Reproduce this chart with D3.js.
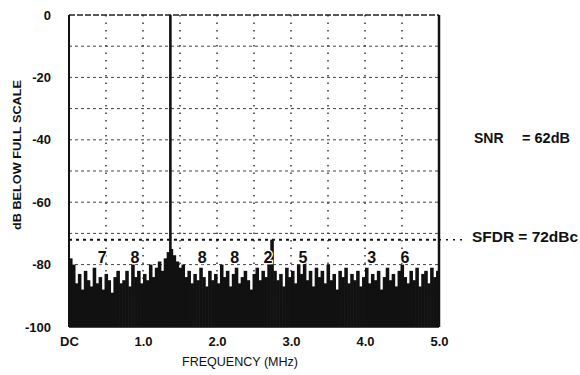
<!DOCTYPE html>
<html>
<head>
<meta charset="utf-8">
<script src="https://cdn.jsdelivr.net/npm/d3@7"></script>
<style>
  html, body { margin: 0; padding: 0; background: #fff; }
  svg { display: block; font-family: Arial, "Liberation Sans", sans-serif; }
</style>
</head>
<body>
<svg id="chart" width="580" height="375"></svg>
<script>
// x ticks (MHz) and their labels
const xTicks = [0, 1, 2, 3, 4, 5]
const xTickLabels = ['DC', '1.0', '2.0', '3.0', '4.0', '5.0']
// y ticks (dB below full scale)
const yTicks = [0, -20, -40, -60, -80, -100]
const yGrid = [-10, -20, -30, -40, -50, -60, -70, -80, -90]
const xGrid = [0.5, 1.0, 1.5, 2.0, 2.5, 3.0, 3.5, 4.0, 4.5]

// fundamental
const carrierFreq = 1.37
const carrierLevel = 0

// noise floor, one value per 0.04 MHz bin starting at DC
const binWidth = 0.04
const noise = [
  -78, -80, -86, -83, -88, -82, -85, -87, -81, -86,
  -84, -88, -83, -85, -89, -84, -82, -86, -85, -82,
  -87, -80, -84, -82, -86, -83, -85, -80, -84, -81,
  -79, -82, -78, -76, -75, -77, -79, -81, -80, -84,
  -82, -86, -83, -85, -81, -84, -87, -82, -85, -83,
  -86, -80, -84, -82, -87, -83, -81, -86, -84, -82,
  -85, -88, -83, -81, -85, -82, -84, -80, -72, -82,
  -85, -83, -87, -81, -84, -82, -86, -80, -83, -79,
  -85, -82, -87, -81, -84, -82, -86, -80, -85, -83,
  -88, -82, -84, -81, -86, -83, -85, -82, -87, -84,
  -81, -86, -83, -85, -82, -88, -84, -81, -85, -83,
  -87, -82, -80, -84, -86, -82, -85, -81, -87, -83,
  -82, -86, -81, -84, -82
]

// harmonic markers written on the plot
const harmonicLabels = ['7', '8', '8', '8', '2', '5', '3', '6']
const harmonicFreqs = [0.45, 0.89, 1.80, 2.24, 2.69, 3.16, 4.09, 4.54]

const sfdrLevel = -72
const snrText = ['SNR', '= 62dB']
const sfdrText = 'SFDR = 72dBc'

const svg = d3.select('#chart')
const ink = '#111'

const x = d3.scaleLinear().domain([0, 5]).range([69, 439])
const y = d3.scaleLinear().domain([-100, 0]).range([327, 15])

// grid
svg.append('g')
  .selectAll('line')
  .data(yGrid)
  .join('line')
  .attr('x1', x(0)).attr('x2', x(5))
  .attr('y1', d => y(d)).attr('y2', d => y(d))
  .attr('stroke', '#444')
  .attr('stroke-width', 1)
  .attr('stroke-dasharray', '3,3')

svg.append('g')
  .selectAll('line')
  .data(xGrid)
  .join('line')
  .attr('x1', d => x(d)).attr('x2', d => x(d))
  .attr('y1', y(0)).attr('y2', y(-100))
  .attr('stroke', '#333')
  .attr('stroke-width', 1.5)
  .attr('stroke-dasharray', '1.5,6')

// top border (dashed like the scan)
svg.append('line')
  .attr('x1', x(0)).attr('x2', x(5))
  .attr('y1', y(0)).attr('y2', y(0))
  .attr('stroke', '#222')
  .attr('stroke-width', 1.3)
  .attr('stroke-dasharray', '6,2')

// SFDR line
svg.append('line')
  .attr('x1', x(0)).attr('x2', x(5))
  .attr('y1', y(sfdrLevel)).attr('y2', y(sfdrLevel))
  .attr('stroke', ink)
  .attr('stroke-width', 2)
  .attr('stroke-dasharray', '3,4')
svg.append('line')
  .attr('x1', x(5)).attr('x2', x(5) + 23)
  .attr('y1', y(sfdrLevel)).attr('y2', y(sfdrLevel))
  .attr('stroke', ink)
  .attr('stroke-width', 1.5)
  .attr('stroke-dasharray', '2,5')

// noise floor
const bw = x(binWidth) - x(0)
svg.append('g')
  .selectAll('rect')
  .data(noise)
  .join('rect')
  .attr('x', (d, i) => x(i * binWidth))
  .attr('width', (d, i) => Math.min(bw + 0.6, x(5) - x(i * binWidth)))
  .attr('y', d => y(d))
  .attr('height', d => y(-100) - y(d))
  .attr('fill', ink)

// carrier
svg.append('line')
  .attr('x1', x(carrierFreq)).attr('x2', x(carrierFreq))
  .attr('y1', y(-100)).attr('y2', y(carrierLevel))
  .attr('stroke', ink)
  .attr('stroke-width', 2.6)

// harmonic labels
svg.append('g')
  .selectAll('text')
  .data(harmonicLabels)
  .join('text')
  .attr('x', (d, i) => x(harmonicFreqs[i]))
  .attr('y', y(-79.5))
  .attr('text-anchor', 'middle')
  .attr('font-size', 16)
  .attr('font-weight', 'bold')
  .attr('fill', ink)
  .attr('stroke', '#fff')
  .attr('stroke-width', 2.5)
  .attr('paint-order', 'stroke')
  .text(d => d)

// frame
svg.append('line')
  .attr('x1', x(0)).attr('x2', x(0))
  .attr('y1', y(0)).attr('y2', y(-100))
  .attr('stroke', ink).attr('stroke-width', 2)
svg.append('line')
  .attr('x1', x(5)).attr('x2', x(5))
  .attr('y1', y(0)).attr('y2', y(-100))
  .attr('stroke', ink).attr('stroke-width', 2.5)
svg.append('line')
  .attr('x1', x(0)).attr('x2', x(5))
  .attr('y1', y(-100)).attr('y2', y(-100))
  .attr('stroke', ink).attr('stroke-width', 1.5)

// axes
const yAxis = svg.append('g')
  .attr('transform', `translate(${x(0)},0)`)
  .call(d3.axisLeft(y).tickValues(yTicks).tickSize(0).tickPadding(18).tickFormat(d => d === 0 ? '0' : '-' + Math.abs(d)))
yAxis.select('.domain').remove()
yAxis.selectAll('text')
  .attr('font-size', 13)
  .attr('font-weight', 'bold')
  .attr('fill', ink)

const xAxis = svg.append('g')
  .attr('transform', `translate(0,${y(-100)})`)
  .call(d3.axisBottom(x).tickValues(xTicks).tickSize(0).tickPadding(10).tickFormat((d, i) => xTickLabels[i]))
xAxis.select('.domain').remove()
xAxis.selectAll('text')
  .attr('font-size', 13)
  .attr('font-weight', 'bold')
  .attr('fill', ink)

// axis titles
svg.append('text')
  .attr('transform', `translate(21,155) rotate(-90)`)
  .attr('text-anchor', 'middle')
  .attr('font-size', 11)
  .attr('font-weight', 'bold')
  .attr('textLength', 150)
  .attr('lengthAdjust', 'spacingAndGlyphs')
  .attr('fill', ink)
  .text('dB BELOW FULL SCALE')

svg.append('text')
  .attr('x', 240)
  .attr('y', 366)
  .attr('text-anchor', 'middle')
  .attr('font-size', 13)
  .attr('textLength', 116)
  .attr('lengthAdjust', 'spacingAndGlyphs')
  .attr('fill', ink)
  .text('FREQUENCY (MHz)')

// annotations
svg.append('text')
  .attr('x', 474).attr('y', 143)
  .attr('font-size', 14).attr('font-weight', 'bold').attr('fill', ink)
  .text(snrText[0])
svg.append('text')
  .attr('x', 522).attr('y', 143)
  .attr('font-size', 14).attr('font-weight', 'bold').attr('fill', ink)
  .attr('textLength', 48).attr('lengthAdjust', 'spacingAndGlyphs')
  .text(snrText[1])
svg.append('text')
  .attr('x', 472).attr('y', y(sfdrLevel) + 2)
  .attr('font-size', 14).attr('font-weight', 'bold').attr('fill', ink)
  .attr('textLength', 106).attr('lengthAdjust', 'spacingAndGlyphs')
  .text(sfdrText)
</script>
</body>
</html>
